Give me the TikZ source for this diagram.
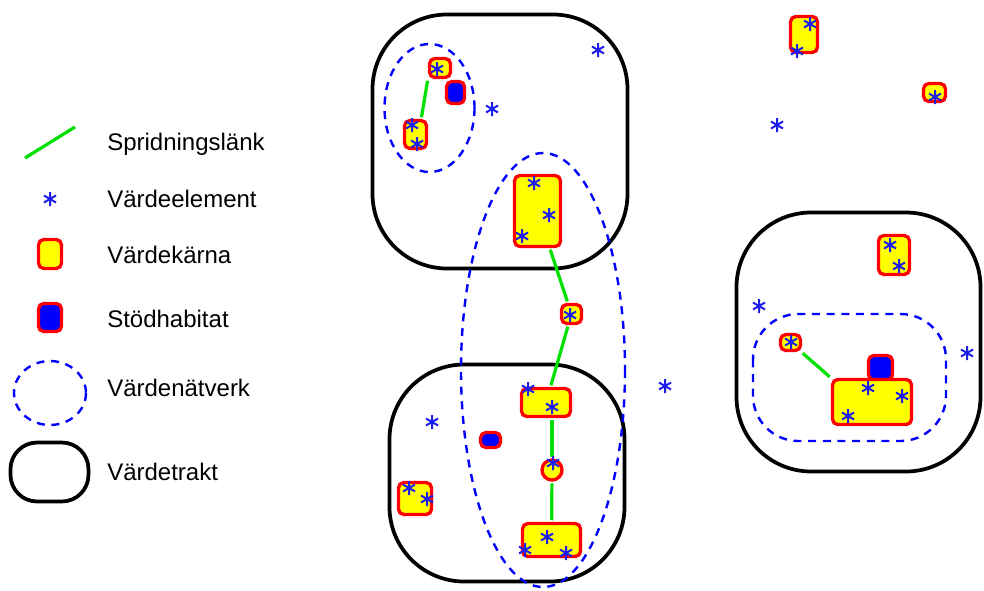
\documentclass[tikz,border=0pt]{standalone}
\usepackage{fontspec}
\setmainfont{Liberation Sans}
\usetikzlibrary{fit}

\tikzset{
  trakt/.style={draw, line width=2.8pt, rounded corners=56pt, inner sep=0pt},
  net/.style={color={rgb, 255:red, 0; green, 0; blue, 255}, line width=1.8pt, dash pattern=on 6pt off 5pt},
  core/.style={draw={rgb, 255:red, 255; green, 0; blue, 0}, fill={rgb, 255:red, 255; green, 255; blue, 0}, line width=2.5pt, rounded corners=4pt, inner sep=0pt},
  stod/.style={core, fill={rgb, 255:red, 0; green, 0; blue, 255}},
  link/.style={color={rgb, 255:red, 0; green, 225; blue, 0}, line width=2.4pt, shorten <=1.2pt, shorten >=1.2pt},
  lbl/.style={inner sep=0pt, anchor=base west, font=\fontsize{18}{22}\selectfont},
  elem/.pic={\draw[color={rgb, 255:red, 30; green, 30; blue, 235}, line width=1.5pt] (0,-7) -- (0,7) (-6,-3.5) -- (6,3.5) (-6,3.5) -- (6,-3.5);}
}

\begin{document}
\begin{tikzpicture}[x=0.75pt,y=0.75pt,yscale=-1,xscale=1]
  \path[use as bounding box] (0,0) rectangle (984,590);
  %Värdetrakter
  \node[trakt, fit={(372.5,14.5) (627.5,268.5)}] (t1) {};
  \node[trakt, fit={(389.5,364.5) (624.5,581.5)}] (t2) {};
  \node[trakt, fit={(736.5,212.5) (980.5,471.5)}] (t3) {};
  %Värdenätverk
  \draw[net] (429.5,108) ellipse [x radius=45, y radius=64];
  \draw[net] (543,370) ellipse [x radius=82, y radius=217];
  \draw[net, rounded corners=34pt] (753,314) rectangle (946,441);
  %Stödhabitat
  \node[stod, fit={(446.5,81.5) (464.5,103.5)}] (s1) {};
  \node[stod, fit={(480.5,432.5) (500.5,447.5)}] (s2) {};
  \node[stod, fit={(868.5,355.5) (892.5,380)}] (s3) {};
  %Värdekärnor
  \node[core, fit={(429.5,58.5) (450.5,77.5)}] (a1) {};
  \node[core, fit={(404.5,120.5) (426.5,148.5)}] (a2) {};
  \node[core, fit={(514.5,175.5) (560.5,246.5)}] (a3) {};
  \node[core, fit={(561.5,304.5) (581.5,323.5)}] (a4) {};
  \node[core, fit={(521.5,388.5) (570.5,416.5)}] (a5) {};
  \node[core, circle, minimum size=15pt] (a6) at (552,470) {};
  \node[core, fit={(522.5,523.5) (580.5,556.5)}] (a7) {};
  \node[core, fit={(398.5,482.5) (431.5,514.5)}] (a8) {};
  \node[core, fit={(790.5,16.5) (817.5,52.5)}] (b1) {};
  \node[core, fit={(923.5,83.5) (945.5,101.5)}] (b2) {};
  \node[core, fit={(878.5,235.5) (909.5,274.5)}] (b3) {};
  \node[core, fit={(780.5,334.5) (800.5,350.5)}] (b4) {};
  \node[core, fit={(832.5,379.5) (911.5,424.5)}] (b5) {};
  %Spridningslänkar
  \draw[link] (a1.south west) -- (a2.70);
  \draw[link] (a3) -- (a4);
  \draw[link] (a4) -- (a5);
  \draw[link] (a6 |- a5.south) -- (a6);
  \draw[link] (a6) -- (a7);
  \draw[link] (b4) -- (b5.north west);
  %Värdeelement
  \pic at (437,69) {elem};
  \pic at (412,125) {elem};
  \pic at (417,144) {elem};
  \pic at (534,183) {elem};
  \pic at (549,215) {elem};
  \pic at (522,236) {elem};
  \pic at (598,50) {elem};
  \pic at (492,109) {elem};
  \pic at (570,315) {elem};
  \pic at (528,389) {elem};
  \pic at (552,407) {elem};
  \pic at (553,463) {elem};
  \pic at (547,537) {elem};
  \pic at (525,550) {elem};
  \pic at (566,553) {elem};
  \pic at (409,488) {elem};
  \pic at (427,499) {elem};
  \pic at (432,422) {elem};
  \pic at (665,386) {elem};
  \pic at (810,24) {elem};
  \pic at (797,51) {elem};
  \pic at (935,97) {elem};
  \pic at (777,125) {elem};
  \pic at (890,245) {elem};
  \pic at (899,266) {elem};
  \pic at (759,306) {elem};
  \pic at (967,353) {elem};
  \pic at (791,342) {elem};
  \pic at (868,388) {elem};
  \pic at (902,396) {elem};
  \pic at (848,416) {elem};
  %Legend
  \coordinate (l1) at (25,158);
  \coordinate (l2) at (75,127);
  \draw[link, shorten <=0pt, shorten >=0pt] (l1) -- (l2);
  \pic at (50,199) {elem};
  \node[core, fit={(38.5,239.5) (61.5,268.5)}] (lcore) {};
  \node[stod, fit={(38.5,303.5) (61.5,331.5)}] (lstod) {};
  \draw[net] (50,393) ellipse [x radius=36, y radius=32];
  \node[trakt, rounded corners=20pt, fit={(10.5,442.5) (88.5,501.5)}] (ltrakt) {};
  % Text Node
  \node[lbl] (tlink) at (107,150) {Spridningslänk};
  \node[lbl] (telem) at (107,207) {Värdeelement};
  \node[lbl] (tcore) at (107,263) {Värdekärna};
  \node[lbl] (tstod) at (107,327) {Stödhabitat};
  \node[lbl] (tnet) at (107,396) {Värdenätverk};
  \node[lbl] (ttrakt) at (107,480) {Värdetrakt};
\end{tikzpicture}
\end{document}
